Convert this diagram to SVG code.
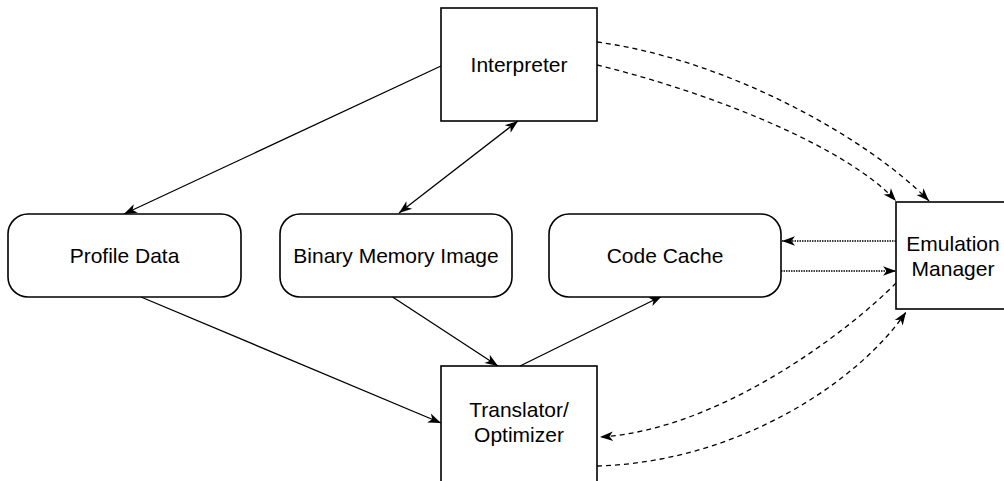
<svg xmlns="http://www.w3.org/2000/svg" width="1004" height="481" viewBox="0 0 1004 481">
<style>
.box{fill:#fff;stroke:#000;stroke-width:1.6}
.t{font-family:"Liberation Sans",Arial,sans-serif;font-size:21px;fill:#000;text-anchor:middle}
.ln{fill:none;stroke:#000;stroke-width:1.3}
.dash{stroke-dasharray:5,4}
.dot{stroke-dasharray:1.5,1}
</style>
<defs>
<marker id="ah" markerUnits="userSpaceOnUse" markerWidth="16" markerHeight="12" viewBox="-14 -6 16 12" refX="0" refY="0" orient="auto-start-reverse">
<path d="M0,0 L-13,-4.8 L-9.5,0 L-13,4.8 Z" fill="#000"/>
</marker>
</defs>
<rect width="1004" height="481" fill="#fff"/>
<g id="connectors">
<path class="ln" d="M441,66 L124,214" marker-end="url(#ah)"/>
<path class="ln" d="M399,213 L518,121" marker-start="url(#ah)" marker-end="url(#ah)"/>
<path class="ln" d="M141,297 L441,423" marker-end="url(#ah)"/>
<path class="ln" d="M391,296 L498,366" marker-end="url(#ah)"/>
<path class="ln" d="M520,366 L662,296" marker-end="url(#ah)"/>
<path class="ln dash" d="M597,42 C730,60 870,140 929,201" marker-end="url(#ah)"/>
<path class="ln dash" d="M597,65 C720,95 850,150 896,201" marker-end="url(#ah)"/>
<path class="ln dash" d="M896,283 C850,330 720,430 600,437" marker-end="url(#ah)"/>
<path class="ln dash" d="M597,466 C740,462 860,380 906,312" marker-end="url(#ah)"/>
<path class="ln dot" d="M896,241 L782,241" marker-end="url(#ah)"/>
<path class="ln dot" d="M781,271 L896,271" marker-end="url(#ah)"/>
</g>
<g id="interpreter">
<rect class="box" x="441" y="8" width="156" height="113"/>
<text class="t" x="519" y="72">Interpreter</text>
</g>
<g id="profile-data">
<rect class="box" x="8" y="214" width="233" height="83" rx="20" ry="20"/>
<text class="t" x="124.5" y="263">Profile Data</text>
</g>
<g id="binary-memory-image">
<rect class="box" x="280" y="214" width="232" height="83" rx="20" ry="20"/>
<text class="t" x="396" y="263">Binary Memory Image</text>
</g>
<g id="code-cache">
<rect class="box" x="549" y="214" width="232" height="83" rx="20" ry="20"/>
<text class="t" x="665" y="263">Code Cache</text>
</g>
<g id="emulation-manager">
<rect class="box" x="896" y="202" width="116" height="107"/>
<text class="t" x="953" y="251">Emulation</text>
<text class="t" x="953" y="276">Manager</text>
</g>
<g id="translator-optimizer">
<rect class="box" x="441" y="366" width="156" height="118"/>
<text class="t" x="519" y="417">Translator/</text>
<text class="t" x="519" y="442">Optimizer</text>
</g>
</svg>
